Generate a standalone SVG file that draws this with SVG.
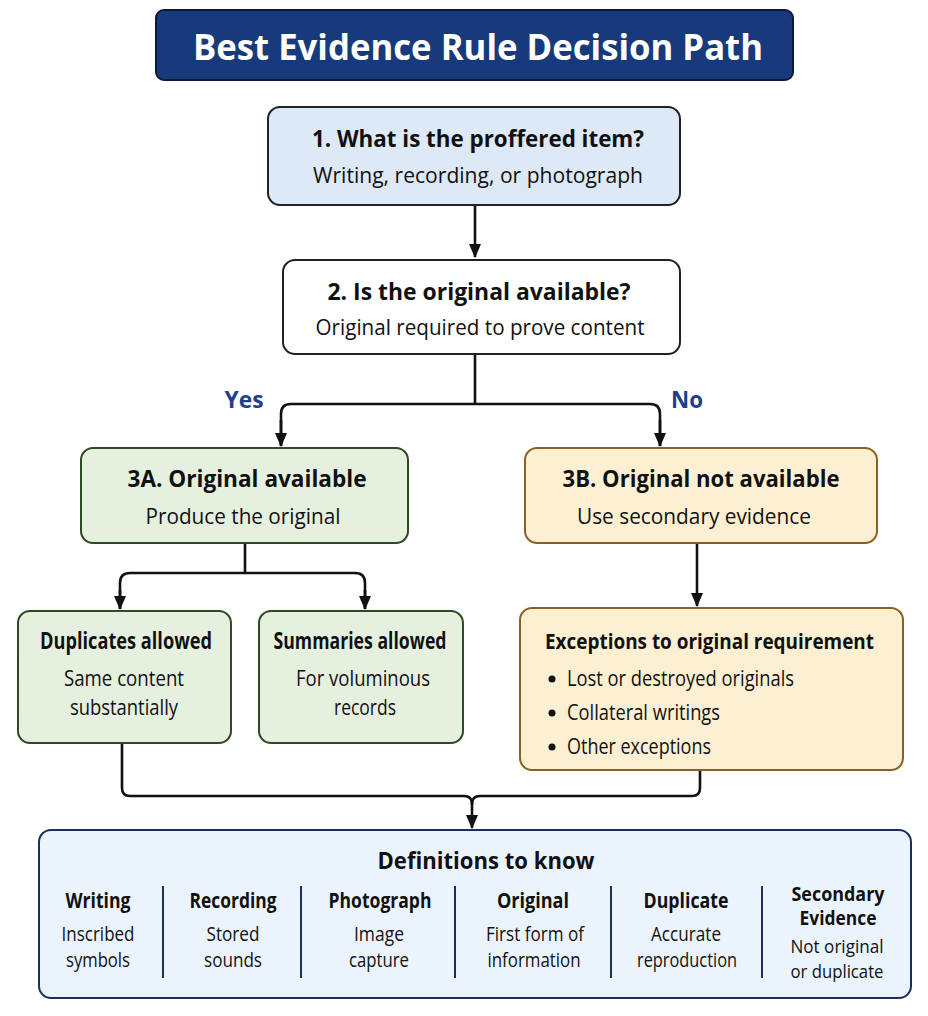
<svg xmlns="http://www.w3.org/2000/svg" width="928" height="1016" viewBox="0 0 928 1016">
<defs>
<marker id="arr" viewBox="0 0 14 12" refX="13" refY="6" markerWidth="14" markerHeight="12" markerUnits="userSpaceOnUse" orient="auto"><path d="M0,0 L14,6 L0,12 z" fill="#111"/></marker>
<style>
text{font-family:"Open Sans","Liberation Sans",sans-serif;fill:#111;text-anchor:middle}
.h{font-weight:700;font-size:23px}
.s{font-size:22px}
.l{text-anchor:start}
.c{fill:none;stroke:#111;stroke-width:2.6;stroke-linejoin:round}
.dh{font-weight:700;font-size:21px}
.ds{font-size:20px}
.sep{stroke:#1a2f5a;stroke-width:2}
.yn{font-size:23px;font-weight:700;fill:#1f3f8a}
</style>
</defs>
<rect width="928" height="1016" fill="#fff"/>
<g id="title">
<rect x="156" y="10" width="637" height="70" rx="8" fill="#173a7c" stroke="#0d1a33" stroke-width="2"/>
<text x="478" y="60" style="font-size:36px;font-weight:700;fill:#fff" textLength="570" lengthAdjust="spacingAndGlyphs">Best Evidence Rule Decision Path</text>
</g>
<g id="connectors">
<path class="c" d="M475,205 V257" marker-end="url(#arr)"/>
<path class="c" d="M475,354 V404"/>
<path class="c" d="M281,446 V414 Q281,404 291,404 H650 Q660,404 660,414 V446"/>
<path class="c" d="M281,420 V446" marker-end="url(#arr)"/>
<path class="c" d="M660,420 V446" marker-end="url(#arr)"/>
<path class="c" d="M245,543 V573"/>
<path class="c" d="M120,609 V583 Q120,573 130,573 H355 Q365,573 365,583 V609"/>
<path class="c" d="M120,590 V609" marker-end="url(#arr)"/>
<path class="c" d="M365,590 V609" marker-end="url(#arr)"/>
<path class="c" d="M697,543 V606" marker-end="url(#arr)"/>
<path class="c" d="M122,743 V788 Q122,796 130,796 H464 Q472,796 472,804 Q472,796 480,796 H692 Q700,796 700,788 V770"/>
<path class="c" d="M472,800 V828" marker-end="url(#arr)"/>
</g>
<g id="n1">
<rect x="268" y="107" width="412" height="98" rx="12" fill="#dde9f7" stroke="#222" stroke-width="2"/>
<text class="h" x="478" y="147" textLength="332" lengthAdjust="spacingAndGlyphs">1. What is the proffered item?</text>
<text class="s" x="478" y="183" textLength="330" lengthAdjust="spacingAndGlyphs">Writing, recording, or photograph</text>
</g>
<g id="n2">
<rect x="283" y="260" width="397" height="94" rx="12" fill="#fff" stroke="#222" stroke-width="2"/>
<text class="h" x="479" y="300" textLength="303" lengthAdjust="spacingAndGlyphs">2. Is the original available?</text>
<text class="s" x="480" y="335" textLength="329" lengthAdjust="spacingAndGlyphs">Original required to prove content</text>
</g>
<g id="lbl">
<text class="yn" x="244" y="408" textLength="39" lengthAdjust="spacingAndGlyphs">Yes</text>
<text class="yn" x="687" y="408" textLength="32" lengthAdjust="spacingAndGlyphs">No</text>
</g>
<g id="n3a">
<rect x="81" y="448" width="327" height="95" rx="12" fill="#e6f0df" stroke="#2d4a22" stroke-width="2"/>
<text class="h" x="247" y="487" textLength="239" lengthAdjust="spacingAndGlyphs">3A. Original available</text>
<text class="s" x="243" y="524" textLength="195" lengthAdjust="spacingAndGlyphs">Produce the original</text>
</g>
<g id="n3b">
<rect x="525" y="448" width="352" height="95" rx="12" fill="#fdf0d2" stroke="#8a6220" stroke-width="2"/>
<text class="h" x="701" y="487" textLength="277" lengthAdjust="spacingAndGlyphs">3B. Original not available</text>
<text class="s" x="694" y="524" textLength="234" lengthAdjust="spacingAndGlyphs">Use secondary evidence</text>
</g>
<g id="n4">
<rect x="18" y="611" width="213" height="132" rx="12" fill="#e6f0df" stroke="#2d4a22" stroke-width="2"/>
<text class="h" x="126" y="649" textLength="172" lengthAdjust="spacingAndGlyphs">Duplicates allowed</text>
<text class="s" x="124" y="686" textLength="120" lengthAdjust="spacingAndGlyphs">Same content</text>
<text class="s" x="124" y="715" textLength="108" lengthAdjust="spacingAndGlyphs">substantially</text>
</g>
<g id="n5">
<rect x="259" y="611" width="204" height="132" rx="12" fill="#e6f0df" stroke="#2d4a22" stroke-width="2"/>
<text class="h" x="360" y="649" textLength="173" lengthAdjust="spacingAndGlyphs">Summaries allowed</text>
<text class="s" x="363" y="686" textLength="134" lengthAdjust="spacingAndGlyphs">For voluminous</text>
<text class="s" x="365" y="715" textLength="62" lengthAdjust="spacingAndGlyphs">records</text>
</g>
<g id="n6">
<rect x="520" y="608" width="383" height="162" rx="12" fill="#fdf0d2" stroke="#8a6220" stroke-width="2"/>
<text class="h l" x="545" y="649" style="font-size:21px" textLength="329" lengthAdjust="spacingAndGlyphs">Exceptions to original requirement</text>
<circle cx="552" cy="679" r="3.5" fill="#111"/>
<circle cx="552" cy="713" r="3.5" fill="#111"/>
<circle cx="552" cy="747" r="3.5" fill="#111"/>
<text class="s l" x="567" y="686" textLength="227" lengthAdjust="spacingAndGlyphs">Lost or destroyed originals</text>
<text class="s l" x="567" y="720" textLength="153" lengthAdjust="spacingAndGlyphs">Collateral writings</text>
<text class="s l" x="567" y="754" textLength="144" lengthAdjust="spacingAndGlyphs">Other exceptions</text>
</g>
<g id="defs-box">
<rect x="39" y="830" width="872" height="168" rx="12" fill="#ebf4fd" stroke="#1a2f5a" stroke-width="2"/>
<text x="486" y="869" style="font-size:24px;font-weight:700" textLength="217" lengthAdjust="spacingAndGlyphs">Definitions to know</text>
<line class="sep" x1="163" y1="886" x2="163" y2="978"/>
<line class="sep" x1="301" y1="886" x2="301" y2="978"/>
<line class="sep" x1="455" y1="886" x2="455" y2="978"/>
<line class="sep" x1="611" y1="886" x2="611" y2="978"/>
<line class="sep" x1="762" y1="886" x2="762" y2="978"/>
<text class="dh" x="98" y="908" textLength="65" lengthAdjust="spacingAndGlyphs">Writing</text>
<text class="ds" x="98" y="941" textLength="73" lengthAdjust="spacingAndGlyphs">Inscribed</text>
<text class="ds" x="98" y="967" textLength="64" lengthAdjust="spacingAndGlyphs">symbols</text>
<text class="dh" x="233" y="908" textLength="87" lengthAdjust="spacingAndGlyphs">Recording</text>
<text class="ds" x="233" y="941" textLength="53" lengthAdjust="spacingAndGlyphs">Stored</text>
<text class="ds" x="233" y="967" textLength="58" lengthAdjust="spacingAndGlyphs">sounds</text>
<text class="dh" x="380" y="908" textLength="103" lengthAdjust="spacingAndGlyphs">Photograph</text>
<text class="ds" x="379" y="941" textLength="50" lengthAdjust="spacingAndGlyphs">Image</text>
<text class="ds" x="379" y="967" textLength="60" lengthAdjust="spacingAndGlyphs">capture</text>
<text class="dh" x="533" y="908" textLength="72" lengthAdjust="spacingAndGlyphs">Original</text>
<text class="ds" x="535" y="941" textLength="98" lengthAdjust="spacingAndGlyphs">First form of</text>
<text class="ds" x="534" y="967" textLength="93" lengthAdjust="spacingAndGlyphs">information</text>
<text class="dh" x="686" y="908" textLength="85" lengthAdjust="spacingAndGlyphs">Duplicate</text>
<text class="ds" x="686" y="941" textLength="70" lengthAdjust="spacingAndGlyphs">Accurate</text>
<text class="ds" x="687" y="967" textLength="100" lengthAdjust="spacingAndGlyphs">reproduction</text>
<text class="dh" x="838" y="901" style="font-size:19px" textLength="93" lengthAdjust="spacingAndGlyphs">Secondary</text>
<text class="dh" x="838" y="925" style="font-size:19px" textLength="77" lengthAdjust="spacingAndGlyphs">Evidence</text>
<text class="ds" x="837" y="953" style="font-size:19px" textLength="93" lengthAdjust="spacingAndGlyphs">Not original</text>
<text class="ds" x="837" y="978" style="font-size:19px" textLength="93" lengthAdjust="spacingAndGlyphs">or duplicate</text>
</g>
</svg>
